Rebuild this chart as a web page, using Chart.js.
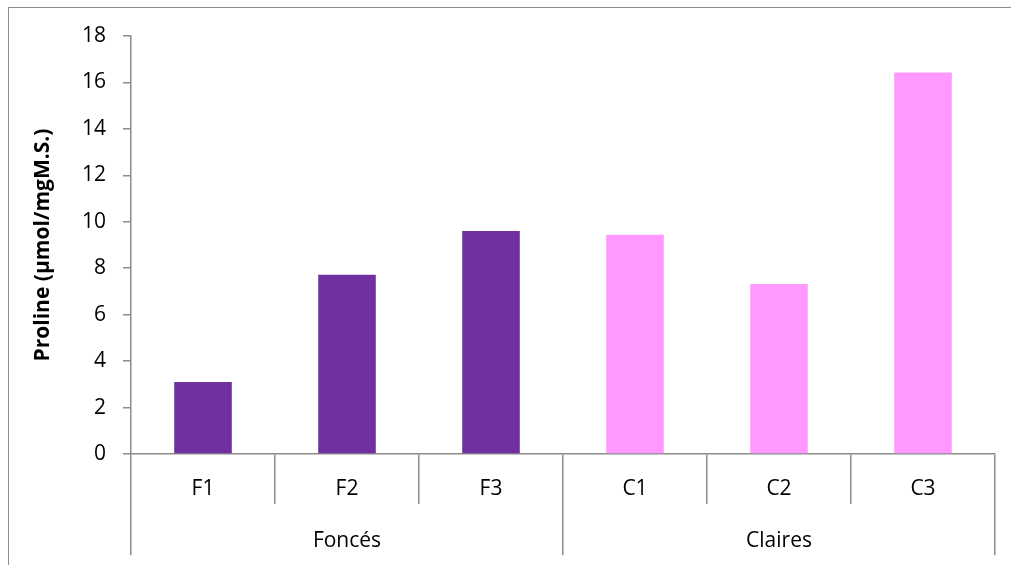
<!DOCTYPE html>
<html>
<head>
<meta charset="utf-8">
<script src="https://cdn.jsdelivr.net/npm/chart.js@4/dist/chart.umd.min.js"></script>
<style>
  html, body { margin: 0; padding: 0; background: #fff; }
  #wrap { position: relative; width: 1011px; height: 565px; }
  #cadre { position: absolute; left: 8px; top: 7px; width: 1100px; height: 700px;
           border-left: 1.5px solid #8c8c8c; border-top: 1.5px solid #8c8c8c; pointer-events: none; }
</style>
</head>
<body>
<div id="wrap">
  <canvas id="graphique" width="1011" height="565"></canvas>
  <div id="cadre"></div>
</div>
<script>
const echantillons = ["F1", "F2", "F3", "C1", "C2", "C3"];
const groupes = ["Foncés", "Claires"];
const proline = [3.1, 7.72, 9.6, 9.44, 7.32, 16.43];
const couleurs = ["#7030A0", "#7030A0", "#7030A0", "#FF99FF", "#FF99FF", "#FF99FF"];
const ticksY = [0, 2, 4, 6, 8, 10, 12, 14, 16, 18];

const gris = "#8c8c8c";
const police = { family: "'Open Sans', sans-serif", size: 21 };

new Chart(document.getElementById("graphique"), {
  type: "bar",
  data: {
    labels: echantillons,
    datasets: [
      {
        data: proline,
        backgroundColor: couleurs,
        barPercentage: 0.4,
        categoryPercentage: 1,
      },
    ],
  },
  options: {
    responsive: false,
    animation: false,
    layout: { padding: { top: 36, right: 16, left: 0, bottom: 0 } },
    plugins: { legend: { display: false }, tooltip: { enabled: false } },
    scales: {
      x: {
        weight: 0,
        offset: true,
        grid: { offset: true, drawOnChartArea: false, tickLength: 50, color: gris, lineWidth: 1.5 },
        border: { color: gris, width: 1.5 },
        ticks: { color: "#000", font: police, padding: -28, maxRotation: 0, autoSkip: false },
        afterFit: (s) => { s.height = 50; },
      },
      groupes: {
        axis: "x",
        type: "category",
        position: "bottom",
        weight: 1,
        labels: groupes,
        offset: true,
        grid: { offset: true, drawOnChartArea: false, tickLength: 51, color: gris, lineWidth: 1.5 },
        border: { display: false },
        ticks: { color: "#000", font: police, padding: -27, maxRotation: 0, autoSkip: false },
        afterFit: (s) => { s.height = 61; },
      },
      y: {
        min: 0,
        max: 18,
        afterBuildTicks: (s) => { s.ticks = ticksY.map((v) => ({ value: v })); },
        grid: { drawOnChartArea: false, tickLength: 8, color: gris, lineWidth: 1.5 },
        border: { color: gris, width: 1.5 },
        ticks: { color: "#000", font: police, padding: 17 },
        title: {
          display: true,
          text: "Proline (µmol/mgM.S.)",
          color: "#000",
          font: { family: "'Open Sans', sans-serif", size: 21, weight: "bold" },
          padding: { top: 30, bottom: 0 },
        },
        afterFit: (s) => { s.width = 131; },
      },
    },
  },
});
</script>
</body>
</html>
